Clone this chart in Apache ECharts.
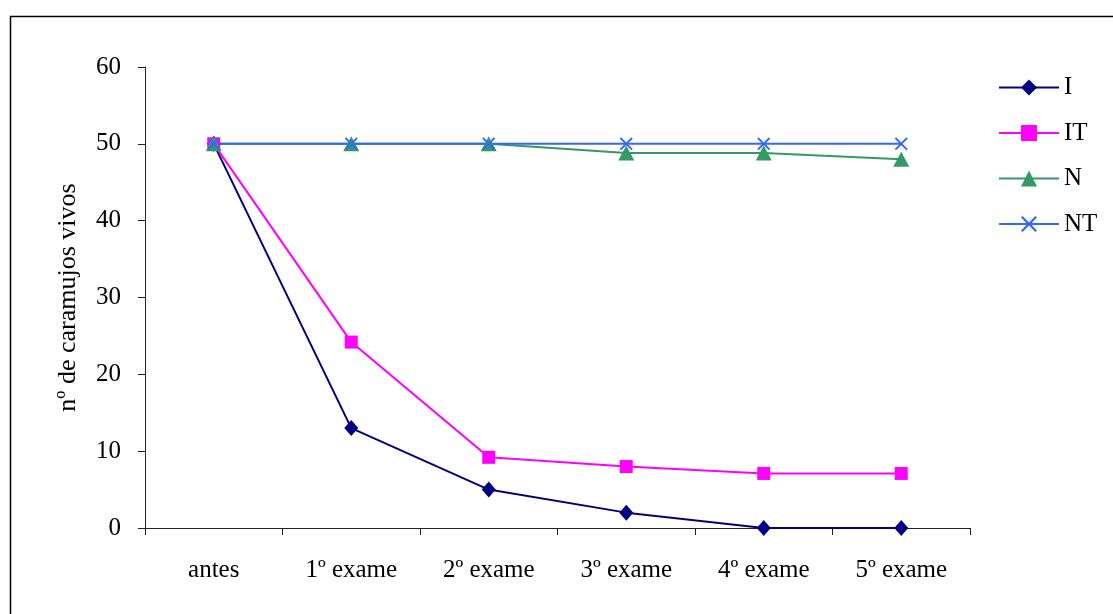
<!DOCTYPE html>
<html>
<head>
<meta charset="utf-8">
<script src="https://cdn.jsdelivr.net/npm/echarts@6/dist/echarts.min.js"></script>
<style>
  html, body { margin: 0; padding: 0; background: #fff; }
  #chart { width: 1113px; height: 614px; }
</style>
</head>
<body>
<div id="chart"></div>
<script>
// Snails alive per examination, by treatment group
const categories = ['antes', '1º exame', '2º exame', '3º exame', '4º exame', '5º exame'];
const seriesI  = [50, 13, 5, 2, 0, 0];
const seriesIT = [50, 24.2, 9.2, 8, 7.1, 7.1];
const seriesN  = [50, 50, 50, 48.8, 48.8, 48];
const seriesNT = [50, 50, 50, 50, 50, 50];
const yTicks = [0, 10, 20, 30, 40, 50, 60];

const FONT = '"Liberation Serif", "Times New Roman", serif';
const crossPath = 'path://M0,1 L1,0 L5,4 L9,0 L10,1 L6,5 L10,9 L9,10 L5,6 L1,10 L0,9 L4,5 Z';

const chart = echarts.init(document.getElementById('chart'), null, { renderer: 'canvas' });

function lineSeries(name, data, color, symbol, size) {
  return {
    name: name,
    type: 'line',
    data: data,
    symbol: symbol,
    symbolSize: size,
    showAllSymbol: true,
    animation: false,
    lineStyle: { color: color, width: 2 },
    itemStyle: { color: color, opacity: 1 },
    emphasis: { disabled: true }
  };
}

chart.setOption({
  backgroundColor: '#fff',
  animation: false,
  graphic: [{
    type: 'rect',
    shape: { x: 10.5, y: 16.5, width: 1300, height: 800 },
    style: { fill: 'none', stroke: '#000', lineWidth: 1.5 },
    silent: true, z: -1
  }],
  grid: { left: 145, right: 143, top: 67, bottom: 86 },
  legend: {
    orient: 'vertical',
    left: 993,
    top: 70,
    itemWidth: 60,
    itemHeight: 20,
    itemGap: 20.5,
    textStyle: { fontFamily: FONT, fontSize: 25, color: '#000', padding: [0, 0, 0, 0] },
    data: ['I', 'IT', 'N', 'NT']
  },
  xAxis: {
    type: 'category',
    data: categories,
    boundaryGap: true,
    axisLine: { lineStyle: { color: '#222', width: 1 } },
    axisTick: { show: true, inside: false, length: 7, lineStyle: { color: '#222' } },
    axisLabel: { fontFamily: FONT, fontSize: 25, color: '#000', margin: 30 },
    splitLine: { show: false }
  },
  yAxis: {
    type: 'value',
    min: yTicks[0],
    max: yTicks[yTicks.length - 1],
    interval: 10,
    name: 'nº de caramujos vivos',
    nameLocation: 'middle',
    nameRotate: 90,
    nameGap: 64,
    nameTextStyle: { fontFamily: FONT, fontSize: 26, color: '#000' },
    axisLine: { show: true, lineStyle: { color: '#222', width: 1 } },
    axisTick: { show: true, inside: false, length: 7, lineStyle: { color: '#222' } },
    axisLabel: { fontFamily: FONT, fontSize: 25, color: '#000', margin: 24 },
    splitLine: { show: false }
  },
  series: [
    lineSeries('I', seriesI, '#000080', 'diamond', [14, 16]),
    lineSeries('IT', seriesIT, '#FF00FF', 'rect', 13),
    lineSeries('N', seriesN, '#339966', 'triangle', [16, 15]),
    lineSeries('NT', seriesNT, '#3366FF', crossPath, 13)
  ]
});
</script>
</body>
</html>
